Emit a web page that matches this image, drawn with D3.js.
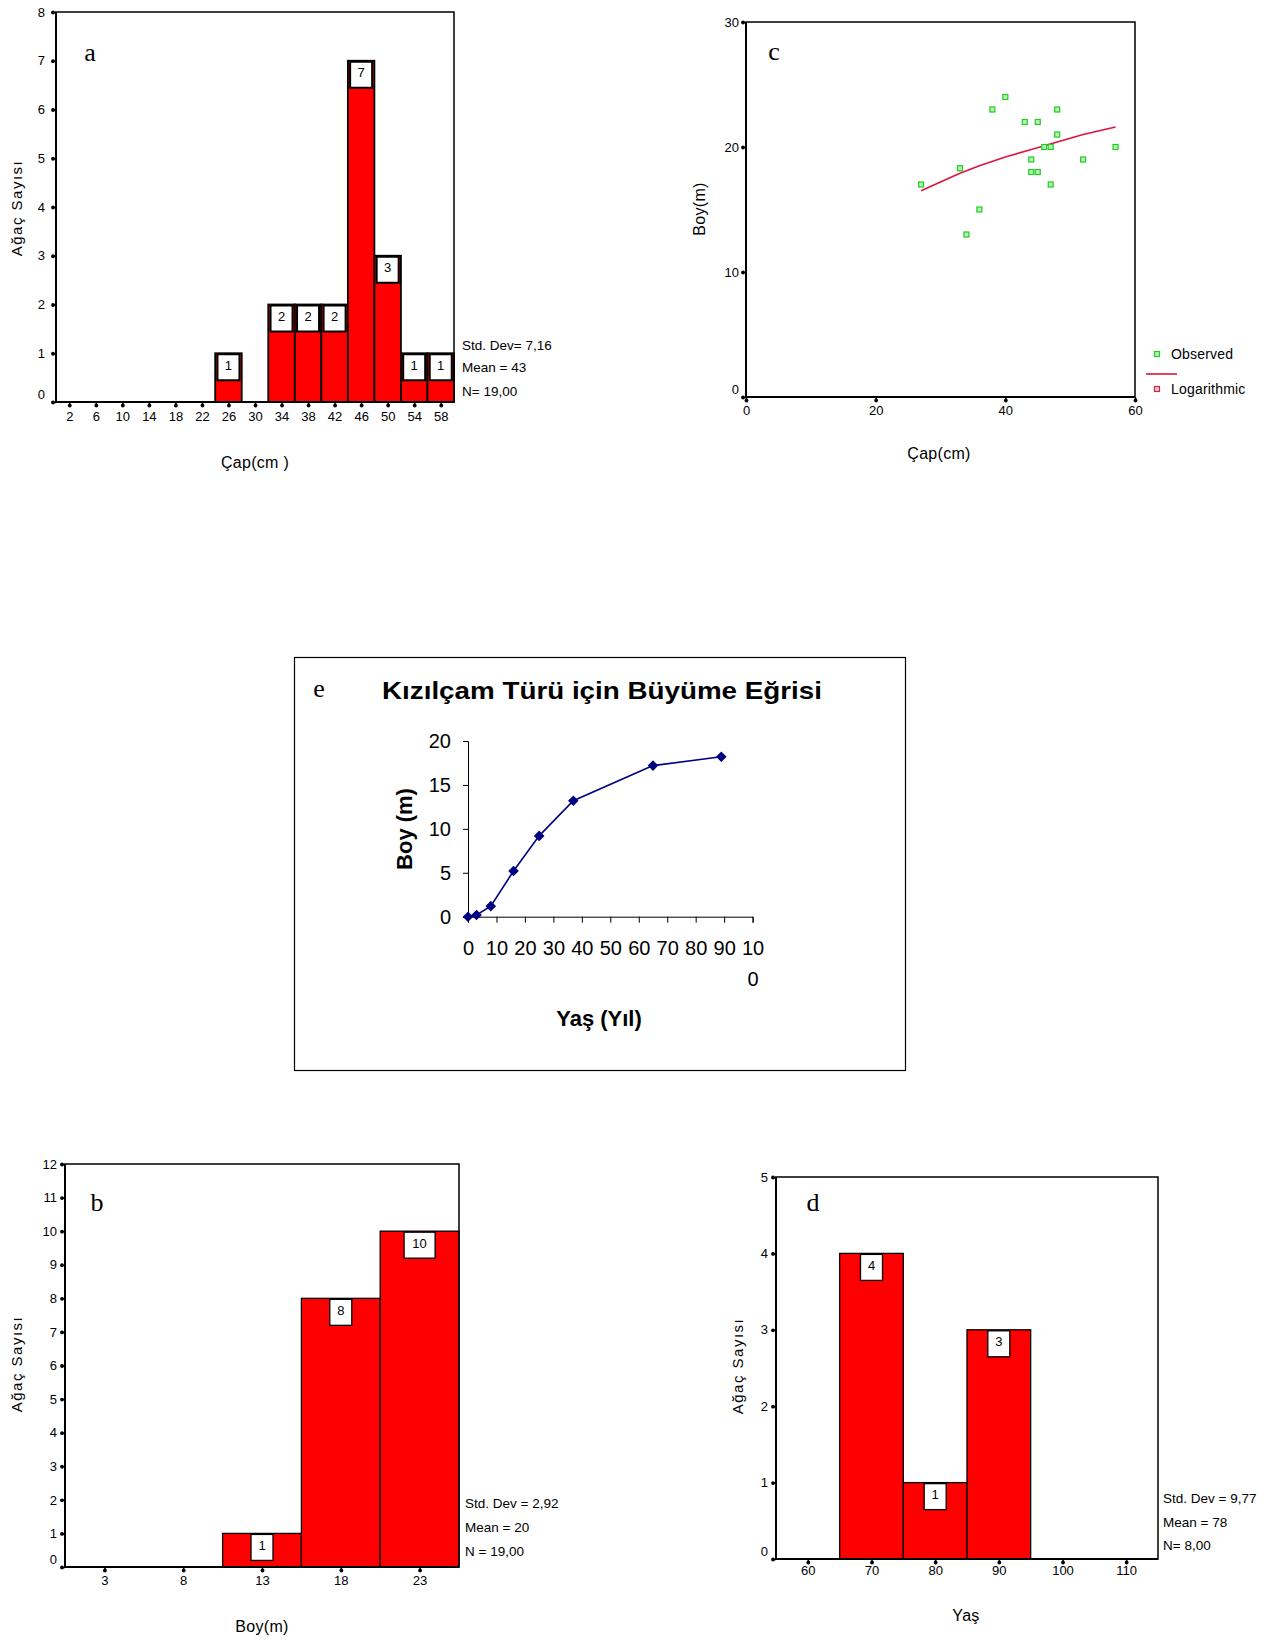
<!DOCTYPE html>
<html>
<head>
<meta charset="utf-8">
<script src="https://cdn.jsdelivr.net/npm/d3@7"></script>
<style>
  body { margin: 0; background: #fff; }
</style>
</head>
<body>
<svg id="fig" width="1274" height="1641"></svg>
<script>
// ---- a: diameter distribution (Çap) ----
const capMid   = [2, 6, 10, 14, 18, 22, 26, 30, 34, 38, 42, 46, 50, 54, 58];
const capCount = [0, 0, 0, 0, 0, 0, 1, 0, 2, 2, 2, 7, 3, 1, 1];
const capYTicks = [0, 1, 2, 3, 4, 5, 6, 7, 8];
const capStats = ["Std. Dev= 7,16", "Mean = 43", "N= 19,00"];

// ---- b: height distribution (Boy) ----
const boyMid   = [3, 8, 13, 18, 23];
const boyCount = [0, 0, 1, 8, 10];
const boyYTicks = [0, 1, 2, 3, 4, 5, 6, 7, 8, 9, 10, 11, 12];
const boyStats = ["Std. Dev = 2,92", "Mean = 20", "N = 19,00"];

// ---- d: age distribution (Yaş) ----
const yasMid   = [60, 70, 80, 90, 100, 110];
const yasCount = [0, 4, 1, 3, 0, 0];
const yasYTicks = [0, 1, 2, 3, 4, 5];
const yasStats = ["Std. Dev = 9,77", "Mean = 78", "N= 8,00"];

// ---- c: height vs diameter, observed points and logarithmic fit ----
const obsCap = [27, 33, 38, 40, 36, 34, 43, 45, 48, 48, 46, 47, 44, 44, 45, 47, 52, 57];
const obsBoy = [17, 18.3, 23, 24, 15, 13, 22, 22, 23, 21, 20, 20, 19, 18, 18, 17, 19, 20];
const logCap = [27, 30, 33, 36, 40, 44, 48, 52, 57];
const logBoy = [16.5, 17.2, 17.9, 18.5, 19.2, 19.8, 20.4, 21.0, 21.6];
const scatXTicks = [0, 20, 40, 60];
const scatYTicks = [0, 10, 20, 30];
const legendNames = ["Observed", "Logarithmic"];

// ---- e: growth curve ----
const growthAge = [0, 3, 8, 16, 25, 37, 65, 89];
const growthBoy = [0, 0.2, 1.2, 5.2, 9.2, 13.2, 17.2, 18.2];
const growthYTicks = [0, 5, 10, 15, 20];
const growthXTicks = [0, 10, 20, 30, 40, 50, 60, 70, 80, 90, 100];
const growthTitle = "Kızılçam Türü için Büyüme Eğrisi";

const SANS = "'Liberation Sans', Arial, sans-serif";
const SERIF = "'Liberation Serif', 'Times New Roman', serif";

const svg = d3.select("#fig");
svg.append("rect").attr("width", 1274).attr("height", 1641).attr("fill", "#fff");

// SPSS style axis: small dotted ticks, "0" label nudged up
function spssAxes(g, x, y, o) {
  const ya = d3.axisLeft(y).tickValues(o.yTicks).tickSize(4).tickPadding(o.yPad).tickFormat(d3.format("d"));
  const yg = g.append("g").attr("transform", `translate(${o.left},0)`).call(ya);
  yg.attr("font-size", 13).attr("font-family", SANS);
  yg.select(".domain").remove();
  yg.selectAll(".tick line").attr("stroke", "#000").attr("stroke-width", 1.5);
  yg.selectAll(".tick").append("circle").attr("cx", -3).attr("r", 1.9).attr("fill", "#000");
  yg.selectAll(".tick text").attr("fill", "#000").attr("y", d => d === 0 ? -8 : 0);

  const xa = d3.axisBottom(x).tickValues(o.xTicks).tickSize(4).tickPadding(o.xPad).tickFormat(d3.format("d"));
  const xg = g.append("g").attr("transform", `translate(0,${o.bottom})`).call(xa);
  xg.attr("font-size", 13).attr("font-family", SANS);
  xg.select(".domain").remove();
  xg.selectAll(".tick line").attr("stroke", "#000").attr("stroke-width", 1.5);
  xg.selectAll(".tick").append("circle").attr("cy", 3.5).attr("r", 1.9).attr("fill", "#000");
  xg.selectAll(".tick text").attr("fill", "#000");

  // frame
  g.append("rect").attr("x", o.left).attr("y", o.top)
    .attr("width", o.right - o.left).attr("height", o.bottom - o.top)
    .attr("fill", "none").attr("stroke", "#000").attr("stroke-width", 1.5);
  g.append("line").attr("x1", o.left).attr("x2", o.left).attr("y1", o.top).attr("y2", o.bottom)
    .attr("stroke", "#000").attr("stroke-width", 2);
  g.append("line").attr("x1", o.left).attr("x2", o.right).attr("y1", o.bottom).attr("y2", o.bottom)
    .attr("stroke", "#000").attr("stroke-width", 2);

  // titles
  g.append("text").attr("transform", `translate(${o.yLabel[0]},${o.yLabel[1]}) rotate(-90)`)
    .attr("text-anchor", "middle").attr("dy", "0.35em")
    .attr("font-family", SANS).attr("font-size", 15).attr("letter-spacing", 1.5)
    .text(o.yTitle);
  g.append("text").attr("x", o.xLabel[0]).attr("y", o.xLabel[1])
    .attr("text-anchor", "middle").attr("dy", "0.35em")
    .attr("font-family", SANS).attr("font-size", 16).attr("letter-spacing", 0.3)
    .text(o.xTitle);
  g.append("text").attr("x", o.letter[0]).attr("y", o.letter[1])
    .attr("text-anchor", "middle").attr("font-family", SERIF).attr("font-size", 26)
    .text(o.letterText);
}

function histogram(o) {
  const x = d3.scaleLinear().domain(o.xDomain).range([o.left, o.right]);
  const y = d3.scaleLinear().domain([0, o.yMax]).range([o.bottom, o.top]);
  const g = svg.append("g");
  const bins = o.mids.map((m, i) => ({ m, c: o.counts[i] })).filter(d => d.c > 0);
  const half = o.binWidth / 2;

  g.selectAll("rect.bar").data(bins).join("rect").attr("class", "bar")
    .attr("x", d => x(d.m - half)).attr("width", d => x(d.m + half) - x(d.m - half))
    .attr("y", d => y(d.c)).attr("height", d => y(0) - y(d.c))
    .attr("fill", "#ff0000").attr("stroke", "#000").attr("stroke-width", o.barStroke);

  const boxW = d => String(d.c).length > 1 ? 31 : 22;
  g.selectAll("rect.box").data(bins).join("rect").attr("class", "box")
    .attr("x", d => x(d.m) - boxW(d) / 2).attr("y", d => y(d.c) + 1)
    .attr("width", boxW).attr("height", 26)
    .attr("fill", "#fff").attr("stroke", "#000").attr("stroke-width", o.boxStroke);
  g.selectAll("text.cnt").data(bins).join("text").attr("class", "cnt")
    .attr("x", d => x(d.m)).attr("y", d => y(d.c) + 12).attr("dy", "0.35em")
    .attr("text-anchor", "middle").attr("font-family", SANS).attr("font-size", 13)
    .text(d => d.c);

  spssAxes(g, x, y, {
    left: o.left, right: o.right, top: o.top, bottom: o.bottom,
    yTicks: o.yTicks, xTicks: o.mids, yPad: o.yPad, xPad: o.xPad,
    yLabel: o.yLabel, xLabel: o.xLabel, yTitle: "Ağaç Sayısı", xTitle: o.xTitle,
    letter: o.letter, letterText: o.letterText
  });

  g.selectAll("text.stat").data(o.stats).join("text").attr("class", "stat")
    .attr("x", o.statX).attr("y", (d, i) => o.statY[i]).attr("dy", "0.35em")
    .attr("font-family", SANS).attr("font-size", 13.5)
    .text(d => d);
}

// a
histogram({
  mids: capMid, counts: capCount, binWidth: 4, xDomain: [0, 60], yMax: 8, yTicks: capYTicks,
  left: 56, right: 454, top: 12, bottom: 402, yPad: 7, xPad: 6,
  barStroke: 1.8, boxStroke: 2,
  yLabel: [17, 208], xLabel: [255, 462], xTitle: "Çap(cm )",
  letter: [90, 61], letterText: "a",
  stats: capStats, statX: 462, statY: [345, 367, 391]
});

// b
histogram({
  mids: boyMid, counts: boyCount, binWidth: 5, xDomain: [0.5, 25.5], yMax: 12, yTicks: boyYTicks,
  left: 65, right: 459, top: 1164, bottom: 1567, yPad: 4, xPad: 5,
  barStroke: 1.3, boxStroke: 1.3,
  yLabel: [17, 1364], xLabel: [262, 1626], xTitle: "Boy(m)",
  letter: [97, 1211], letterText: "b",
  stats: boyStats, statX: 465, statY: [1503, 1527, 1551]
});

// d
histogram({
  mids: yasMid, counts: yasCount, binWidth: 10, xDomain: [55, 115], yMax: 5, yTicks: yasYTicks,
  left: 776, right: 1158, top: 1177, bottom: 1559, yPad: 4, xPad: 3,
  barStroke: 1.3, boxStroke: 1.3,
  yLabel: [738, 1366], xLabel: [966, 1615], xTitle: "Yaş",
  letter: [813, 1211], letterText: "d",
  stats: yasStats, statX: 1163, statY: [1498, 1522, 1545]
});

// c: scatter with logarithmic fit
(function () {
  const left = 746, right = 1135, top = 22, bottom = 397;
  const x = d3.scaleLinear().domain([0, 60]).range([left, right]);
  const y = d3.scaleLinear().domain([0, 30]).range([bottom, top]);
  const g = svg.append("g");

  const fit = logCap.map((c, i) => [c, logBoy[i]]);
  g.append("path").datum(fit)
    .attr("d", d3.line().x(d => x(d[0])).y(d => y(d[1])))
    .attr("fill", "none").attr("stroke", "#dc143c").attr("stroke-width", 1.6);

  const pts = obsCap.map((c, i) => [c, obsBoy[i]]);
  g.selectAll("rect.obs").data(pts).join("rect").attr("class", "obs")
    .attr("x", d => x(d[0]) - 2.5).attr("y", d => y(d[1]) - 2.5)
    .attr("width", 5).attr("height", 5)
    .attr("fill", "#b6f2b6").attr("stroke", "#22cc22").attr("stroke-width", 1.2);

  spssAxes(g, x, y, {
    left, right, top, bottom, yTicks: scatYTicks, xTicks: scatXTicks, yPad: 3, xPad: 4.5,
    yLabel: [699, 209], xLabel: [939, 453], yTitle: "Boy(m)", xTitle: "Çap(cm)",
    letter: [774, 60], letterText: "c"
  });
  // the y title here has no extra tracking
  g.selectAll("text").filter(function () { return d3.select(this).text() === "Boy(m)"; })
    .attr("font-size", 16).attr("letter-spacing", 0.3);

  // legend
  const lg = g.append("g");
  lg.append("rect").attr("x", 1154.5).attr("y", 351.5).attr("width", 5).attr("height", 5)
    .attr("fill", "#b6f2b6").attr("stroke", "#22cc22").attr("stroke-width", 1.2);
  lg.append("line").attr("x1", 1146).attr("x2", 1177).attr("y1", 374).attr("y2", 374)
    .attr("stroke", "#dc143c").attr("stroke-width", 1.6);
  lg.append("rect").attr("x", 1154.5).attr("y", 386.5).attr("width", 5).attr("height", 5)
    .attr("fill", "#f4c0cc").attr("stroke", "#b8304a").attr("stroke-width", 1.2);
  lg.selectAll("text").data(legendNames).join("text")
    .attr("x", 1171).attr("y", (d, i) => i === 0 ? 354 : 389).attr("dy", "0.35em")
    .attr("font-family", SANS).attr("font-size", 14).attr("letter-spacing", 0.2)
    .text(d => d);
})();

// e: growth curve
(function () {
  const g = svg.append("g");
  g.append("rect").attr("x", 294.5).attr("y", 657.5).attr("width", 611).attr("height", 413)
    .attr("fill", "#fff").attr("stroke", "#000").attr("stroke-width", 1.2);

  const x = d3.scaleLinear().domain([0, 100]).range([468, 752.6]);
  const y = d3.scaleLinear().domain([0, 20]).range([916.7, 741]);

  const yg = g.append("g").attr("transform", "translate(468,0)")
    .call(d3.axisLeft(y).tickValues(growthYTicks).tickSize(5).tickPadding(12));
  yg.attr("font-size", 20).attr("font-family", SANS);
  yg.selectAll("text").attr("fill", "#000");
  yg.selectAll("line, path").attr("stroke", "#000");

  const xg = g.append("g").attr("transform", "translate(0,916.7)")
    .call(d3.axisBottom(x).tickValues(growthXTicks).tickSize(6).tickPadding(18));
  xg.attr("font-size", 20).attr("font-family", SANS);
  xg.selectAll("line, path").attr("stroke", "#000");
  xg.selectAll(".tick text").attr("fill", "#000").each(function (d) {
    if (d === 100) {
      const t = d3.select(this).text("");
      t.append("tspan").attr("x", 0).text("10");
      t.append("tspan").attr("x", 0).attr("dy", 31).text("0");
    }
  });

  const pts = growthAge.map((a, i) => [a, growthBoy[i]]);
  g.append("path").datum(pts)
    .attr("d", d3.line().x(d => x(d[0])).y(d => y(d[1])))
    .attr("fill", "none").attr("stroke", "#000080").attr("stroke-width", 1.6);
  g.selectAll("path.pt").data(pts).join("path").attr("class", "pt")
    .attr("d", d3.symbol(d3.symbolSquare, 56)())
    .attr("transform", d => `translate(${x(d[0])},${y(d[1])}) rotate(45)`)
    .attr("fill", "#000080");

  g.append("text").attr("x", 602).attr("y", 699).attr("text-anchor", "middle")
    .attr("font-family", SANS).attr("font-weight", "bold").attr("font-size", 24)
    .attr("textLength", 440).attr("lengthAdjust", "spacingAndGlyphs")
    .text(growthTitle);
  g.append("text").attr("x", 319).attr("y", 697).attr("text-anchor", "middle")
    .attr("font-family", SERIF).attr("font-size", 26).text("e");
  g.append("text").attr("transform", "translate(404,829) rotate(-90)")
    .attr("text-anchor", "middle").attr("dy", "0.35em")
    .attr("font-family", SANS).attr("font-weight", "bold").attr("font-size", 22)
    .text("Boy (m)");
  g.append("text").attr("x", 599).attr("y", 1018).attr("text-anchor", "middle").attr("dy", "0.35em")
    .attr("font-family", SANS).attr("font-weight", "bold").attr("font-size", 22)
    .text("Yaş (Yıl)");
})();
</script>
</body>
</html>
